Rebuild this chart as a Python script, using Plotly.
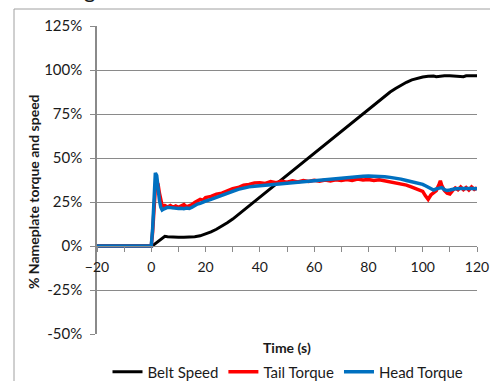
import plotly.graph_objects as go

# ---- data ----
belt_t = [-20, 0, 0.5, 1, 2, 3, 4, 5, 6, 8, 10, 12, 14, 16, 18, 20, 22, 24, 26, 28, 30, 32, 34, 36, 38, 40,
          42, 44, 46, 48, 50, 55, 60, 65, 70, 75, 80, 84, 86, 88, 90, 92, 94, 96, 98, 100, 102, 104, 105,
          106, 108, 110, 112, 114, 115, 116, 118, 120]
belt_v = [0, 0, 0.2, 0.8, 2, 3.5, 4.8, 5.5, 5.3, 5, 5, 5, 5, 5.3, 5.8, 6.8, 8, 9.5, 11.2, 13.2, 15.3, 17.8,
          20.3, 22.8, 25.3, 27.8, 30.3, 32.8, 35.3, 37.8, 40.3, 46.5, 52.8, 59, 65.3, 71.5, 77.8, 82.8, 85.2,
          87.5, 89.5, 91.3, 93, 94.4, 95.4, 96, 96.4, 96.6, 96.2, 96.5, 96.7, 96.7, 96.6, 96.6, 96.2, 96.7,
          96.7, 96.7]

head_t = [-20, -0.5, 0, 0.5, 1, 1.5, 2, 2.5, 3, 3.5, 4, 4.5, 5, 6, 7, 8, 9, 10, 11, 12, 13, 14, 15, 16, 17,
          18, 19, 20, 22, 24, 26, 28, 30, 32, 34, 36, 38, 40, 42, 44, 46, 48, 50, 52, 54, 56, 58, 60, 62, 64,
          66, 68, 70, 72, 74, 76, 78, 80, 82, 84, 86, 88, 90, 92, 94, 96, 98, 100, 101, 102, 103, 104, 105,
          106, 107, 108, 109, 110, 111, 112, 114, 116, 118, 120]
head_v = [0, 0, 0, 10, 30, 41.5, 40, 32, 26, 22, 20.5, 21, 21.5, 22, 21.8, 21.5, 21.7, 21.3, 21.5, 21.2,
          21.6, 21.3, 22, 23, 23.8, 24.2, 25, 25.5, 26.5, 27.5, 28.6, 30, 31, 32.2, 33, 33.6, 34, 34.3, 34.6,
          34.8, 35, 35.3, 35.5, 35.8, 36.2, 36.5, 36.8, 37, 37.3, 37.5, 37.8, 38.2, 38.5, 38.8, 39, 39.3,
          39.6, 39.8, 39.8, 39.6, 39.4, 39, 38.6, 38, 37.2, 36.5, 35.8, 35, 34.2, 33.5, 32.5, 31.8, 32.5, 33,
          33.2, 32, 31.5, 31.8, 32.4, 32.5, 32.6, 32.4, 32.6, 32.5]

tail_t = [-20, 0, 0.5, 1, 1.5, 2, 2.5, 3, 3.5, 4, 4.5, 5, 6, 7, 8, 9, 10, 11, 12, 13, 14, 15, 16, 17, 18, 19,
          20, 22, 24, 26, 28, 30, 32, 34, 36, 38, 40, 42, 44, 46, 48, 50, 52, 54, 56, 58, 60, 62, 64, 66, 68,
          70, 72, 74, 76, 78, 80, 82, 84, 86, 88, 90, 92, 94, 96, 98, 100, 101, 102, 103, 104, 105, 106,
          106.5, 107, 108, 109, 110, 111, 112, 113, 114, 115, 116, 117, 118, 119, 120]
tail_v = [0, 0, 8, 22, 33, 36.5, 35, 30, 25, 23, 22.5, 23, 22.2, 23, 22, 22.8, 22, 22.5, 23.5, 22.2, 22.8,
          23.5, 24.8, 25.5, 26.5, 26, 27.5, 28.2, 29.5, 30, 31.5, 32.5, 33.2, 34.5, 35, 35.8, 36, 35.5, 36.6,
          36, 36.8, 36.2, 37, 36.4, 37.2, 36.6, 37.3, 36.8, 37.5, 37, 37.6, 37.2, 37.8, 37.3, 38, 37.5, 37.8,
          37.2, 37.6, 37, 36.8, 36.2, 35.5, 34.6, 33.5, 32.5, 31, 28.5, 26.5, 29, 30, 31.5, 35, 37, 34.5,
          31.5, 30, 29.5, 31.5, 33, 32, 33.5, 32, 33.2, 31.8, 33.5, 32.2, 33]

y_ticks = [-50, -25, 0, 25, 50, 75, 100, 125]
y_tick_text = ["-50%", "-25%", "0%", "25%", "50%", "75%", "100%", "125%"]
x_ticks = [-20, 0, 20, 40, 60, 80, 100, 120]

FONT = "Lato"
GRID = "#8a8a8a"
TXT = "#1a1a1a"

fig = go.Figure()
fig.add_trace(go.Scatter(x=belt_t, y=belt_v, mode="lines", name="Belt Speed",
                         line=dict(color="#000000", width=3)))
fig.add_trace(go.Scatter(x=tail_t, y=tail_v, mode="lines", name="Tail Torque",
                         line=dict(color="#ff0000", width=3.5)))
fig.add_trace(go.Scatter(x=head_t, y=head_v, mode="lines", name="Head Torque",
                         line=dict(color="#0070c0", width=3.5)))

W, H = 490, 381
L, R, T, B = 97, 13, 26, 47
pw, ph = W - L - R, H - T - B


def px2paper_x(px):
    return (px - L) / pw


def px2paper_y(py):
    return (H - B - py) / ph


fig.update_layout(
    width=W, height=H,
    margin=dict(l=L, r=R, t=T, b=B, pad=0, autoexpand=False),
    paper_bgcolor="white", plot_bgcolor="white",
    font=dict(family=FONT, size=15, color=TXT),
    showlegend=True,
    legend=dict(orientation="h", x=px2paper_x(288), xanchor="center", y=px2paper_y(372), yanchor="middle",
                font=dict(family=FONT, size=15, color=TXT), itemwidth=30,
                bgcolor="rgba(0,0,0,0)", tracegroupgap=0),
    xaxis=dict(range=[-20, 120], tickvals=x_ticks, showgrid=False, zeroline=False,
               anchor="free", position=(0 - (-50)) / 175,
               showline=True, linecolor=GRID, linewidth=1,
               ticks="outside", ticklen=5, tickcolor=GRID, tickwidth=1, ticklabelstandoff=3,
               minor=dict(dtick=10, tick0=0, ticks="outside", ticklen=5, tickcolor=GRID, showgrid=False),
               tickfont=dict(family=FONT, size=14, color=TXT)),
    yaxis=dict(range=[-50, 125], tickvals=y_ticks, ticktext=y_tick_text,
               showgrid=True, gridcolor=GRID, gridwidth=1, zeroline=False,
               showline=True, linecolor=GRID, linewidth=1.5,
               ticks="outside", ticklen=5, tickcolor=GRID, ticklabelstandoff=5,
               tickfont=dict(family=FONT, size=15, color=TXT)),
    annotations=[
        dict(text="<b>Time (s)</b>", xref="paper", yref="paper", x=px2paper_x(287), y=px2paper_y(347),
             xanchor="center", yanchor="middle", showarrow=False,
             font=dict(family=FONT, size=14, color=TXT)),
        dict(text="<b>% Nameplate torque and speed</b>", xref="paper", yref="paper",
             x=px2paper_x(33), y=px2paper_y(192), xanchor="center", yanchor="middle",
             textangle=-90, showarrow=False, font=dict(family=FONT, size=14, color=TXT)),
        dict(text="Starting", xref="paper", yref="paper", x=px2paper_x(98), y=px2paper_y(5),
             xanchor="right", yanchor="bottom", showarrow=False,
             font=dict(family=FONT, size=22, color=TXT)),
    ],
    shapes=[
        dict(type="line", xref="paper", yref="paper", x0=px2paper_x(14), x1=px2paper_x(14),
             y0=px2paper_y(9), y1=px2paper_y(400), line=dict(color="#a0a0a0", width=1)),
        dict(type="line", xref="paper", yref="paper", x0=px2paper_x(14), x1=px2paper_x(500),
             y0=px2paper_y(9), y1=px2paper_y(9), line=dict(color="#a0a0a0", width=1)),
    ],
)

fig.write_html("out.html")
